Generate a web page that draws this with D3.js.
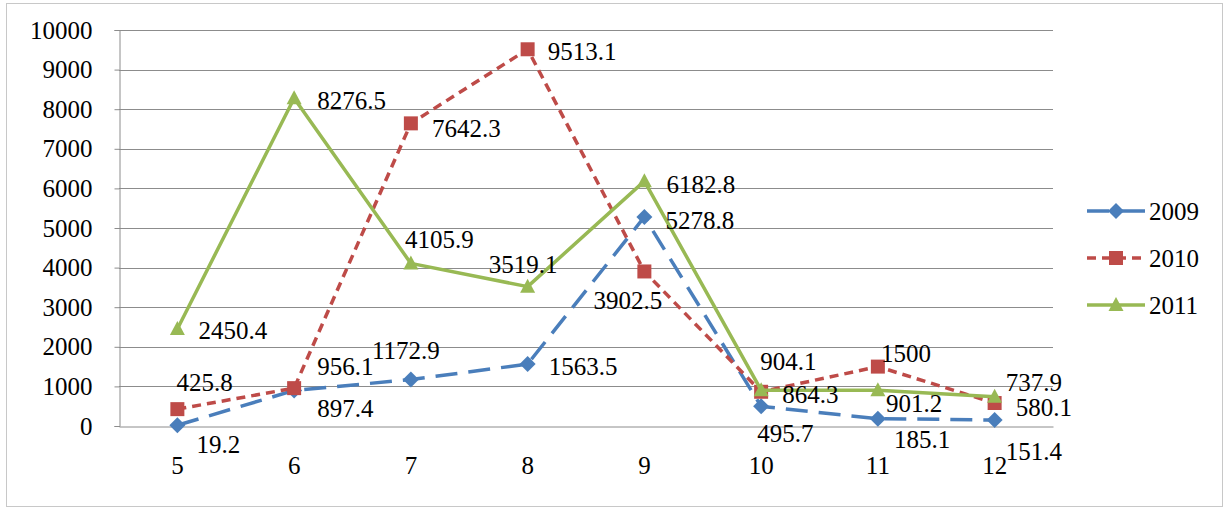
<!DOCTYPE html>
<html><head><meta charset="utf-8">
<script src="https://cdn.jsdelivr.net/npm/d3@7"></script>
</head>
<body style="margin:0;padding:0;background:#fff">
<svg id="c" width="1225" height="510"></svg>
<script>
const months = ["5","6","7","8","9","10","11","12"];
const seriesNames = ["2009","2010","2011"];
const v2009 = [19.2, 897.4, 1172.9, 1563.5, 5278.8, 495.7, 185.1, 151.4];
const v2010 = [425.8, 956.1, 7642.3, 9513.1, 3902.5, 864.3, 1500, 580.1];
const v2011 = [2450.4, 8276.5, 4105.9, 3519.1, 6182.8, 904.1, 901.2, 737.9];
const yTicks = [0,1000,2000,3000,4000,5000,6000,7000,8000,9000,10000];

// label placement (offset of label's left edge / middle from the marker), layout only
const labelOff2009 = [[19,19],[23,18],[-39,-29],[21,2],[21,3],[-4,27],[16,21],[11,31]];
const labelOff2010 = [[-1,-27],[23,-22],[21,5],[20,2],[-51,29],[21,2],[3,-13],[21,4]];
const labelOff2011 = [[21,1],[23,2],[-6,-24],[-39,-22],[22,3],[-1,-29],[8,13],[11,-15]];

const svg = d3.select("#c");
const L = 119, R = 1053, T = 30, B = 426;
const txt = sel => sel.style("font-family", `"Liberation Serif"`).attr("font-size", 25).attr("fill","#000");

svg.append("rect").attr("x",6.5).attr("y",3.5).attr("width",1216).attr("height",503)
  .attr("fill","#fff").attr("stroke","#c8c8c8").attr("stroke-width",1);

const x = d3.scaleBand().domain(months).range([L,R]);
const y = d3.scaleLinear().domain([0,10000]).range([B,T]);

svg.append("g").selectAll("line").data(yTicks.filter(t=>t>0)).join("line")
  .attr("x1",L).attr("x2",R).attr("y1",d=>Math.round(y(d))+0.5).attr("y2",d=>Math.round(y(d))+0.5)
  .attr("stroke","#8c8c8c").attr("stroke-width",1);

const ya = svg.append("g").attr("transform",`translate(${L+0.5},0)`)
  .call(d3.axisLeft(y).tickValues(yTicks).tickSize(5).tickPadding(22).tickFormat(d3.format("d")));
ya.attr("font-family",null).attr("font-size",null);
ya.select(".domain").attr("stroke","#8c8c8c");
ya.selectAll(".tick line").attr("stroke","#8c8c8c");
ya.selectAll("text").call(txt);

const xa = svg.append("g").attr("transform",`translate(0,${B+0.5})`)
  .call(d3.axisBottom(x).tickSize(0).tickPadding(30));
xa.attr("font-family",null).attr("font-size",null);
xa.select(".domain").attr("stroke","#8c8c8c");
xa.selectAll("text").call(txt);

const series = [
  {name:seriesNames[0], vals:v2009, off:labelOff2009, color:"#4A7EBB", dash:"22,11", marker:"diamond"},
  {name:seriesNames[1], vals:v2010, off:labelOff2010, color:"#BE4B48", dash:"9,6", marker:"square"},
  {name:seriesNames[2], vals:v2011, off:labelOff2011, color:"#98B954", dash:null, marker:"triangle"}
];
const cx = m => x(m) + x.bandwidth()/2;
const markerPath = {
  diamond: "M0,-8L8,0L0,8L-8,0Z",
  square: "M-7,-7H7V7H-7Z",
  triangle: "M0,-8L7.5,6L-7.5,6Z"
};

series.forEach(s=>{
  const line = d3.line().x((d,i)=>cx(months[i])).y(d=>y(d));
  svg.append("path").datum(s.vals).attr("d",line).attr("fill","none")
    .attr("stroke",s.color).attr("stroke-width",3.5).attr("stroke-linejoin","round")
    .attr("stroke-dasharray",s.dash);
  svg.append("g").selectAll("path").data(s.vals).join("path")
    .attr("transform",(d,i)=>`translate(${cx(months[i])},${y(d)})`)
    .attr("d",markerPath[s.marker])
    .attr("fill",s.color);
});
series.forEach(s=>{
  s.vals.forEach((d,i)=>{
    svg.append("text")
      .attr("x",cx(months[i])+s.off[i][0])
      .attr("y",y(d)+s.off[i][1])
      .attr("dy","0.35em").call(txt)
      .text(d);
  });
});

const lg = svg.append("g");
series.forEach((s,i)=>{
  const ly = 211 + i*47;
  lg.append("line").attr("x1",1087).attr("x2",1145).attr("y1",ly).attr("y2",ly)
    .attr("stroke",s.color).attr("stroke-width",3.5)
    .attr("stroke-dasharray", s.dash ? (i===0 ? "22,8,28" : "9,6") : null);
  lg.append("path").attr("transform",`translate(1116,${ly})`)
    .attr("d",markerPath[s.marker]).attr("fill",s.color);
  lg.append("text").attr("x",1149).attr("y",ly).attr("dy","0.35em").call(txt).text(s.name);
});
</script></body></html>
